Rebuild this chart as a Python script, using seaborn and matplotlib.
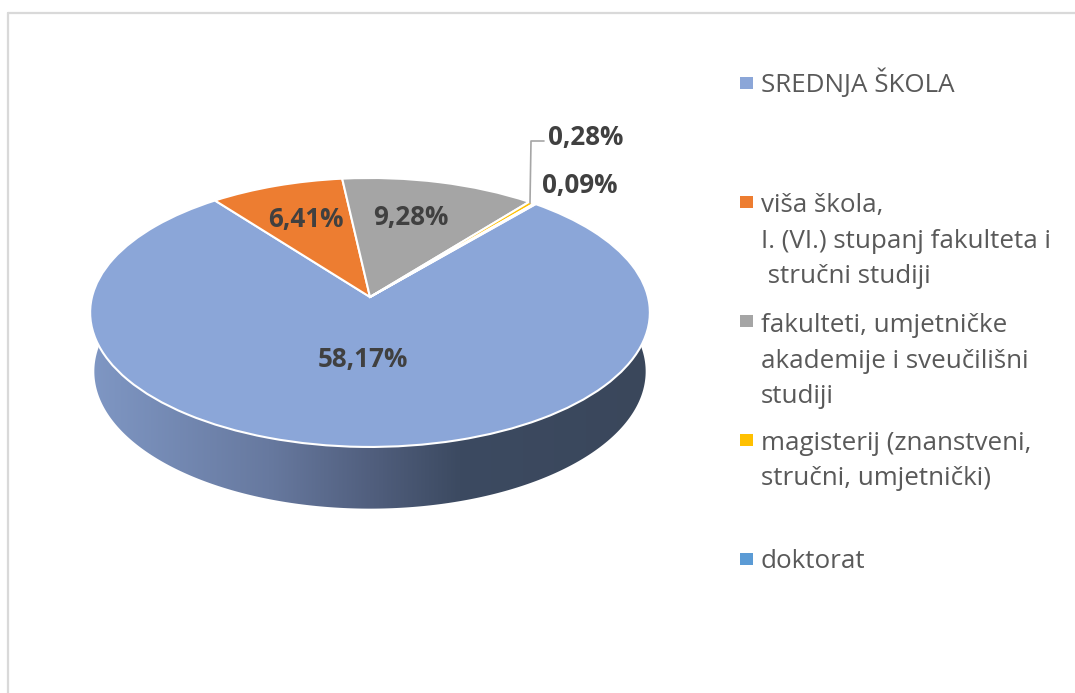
import numpy as np
import pandas as pd
import matplotlib
matplotlib.use('Agg')
import matplotlib.pyplot as plt
import seaborn as sns
from matplotlib.colors import LinearSegmentedColormap
from matplotlib.patches import Polygon
from matplotlib.transforms import Transform

# values as printed on the chart
categories = ['SREDNJA ŠKOLA',
              'viša škola,\nI. (VI.) stupanj fakulteta i\n stručni studiji',
              'fakulteti, umjetničke\nakademije i sveučilišni\nstudiji',
              'magisterij (znanstveni,\nstručni, umjetnički)',
              'doktorat']
percent = [58.17, 6.41, 9.28, 0.28, 0.09]
colors = ['#8ba6d8', '#ed7d31', '#a5a5a5', '#ffc000', '#5b9bd5']

# layout in image pixels
CX, CY = 370, 297
A, B, K = 278, 132.7, 0.115
label_pos = [(363, 360), (306, 220), (411, 218), (586, 138), (580, 186)]
legend_y = [83, 202, 321, 440, 559]
legend_baseline = [92, 283, 403, 485, 568]


class Tilt(Transform):
    # perspective view of the unit circle, gives pixels
    input_dims = 2
    output_dims = 2

    def transform_non_affine(self, values):
        values = np.asarray(values, dtype=float)
        w = 1 + K * values[:, 1]
        return np.column_stack([CX + A * values[:, 0] / w, CY - B * values[:, 1] / w])


sns.set_theme(style='white')
plt.rcParams['font.family'] = ['Open Sans', 'DejaVu Sans']

fig, ax = plt.subplots(figsize=(10.75, 6.93), dpi=100)
ax.set_position([0, 0, 1, 1])

wedges, _ = ax.pie(percent, colors=sns.color_palette(colors), startangle=49.6, counterclock=False,
                   wedgeprops={'edgecolor': 'white', 'linewidth': 1.5, 'zorder': 3})
tilt = Tilt()
for wedge in wedges:
    wedge.set_transform(tilt + ax.transData)

# side of the disc, gradient clipped to the rim shape
t = np.linspace(np.pi - np.arcsin(K), 2 * np.pi + np.arcsin(K), 300)
top = tilt.transform(np.column_stack([np.cos(t), np.sin(t)]))
# lower edge fitted to the reference outline
bottom = np.column_stack([CX + (top[:, 0] - CX) * 0.985, 371 + (top[:, 1] - 312) * 1.02])
rim = Polygon(np.vstack([top, bottom[::-1]]), closed=True, facecolor='none', edgecolor='none',
              transform=ax.transData)
ax.add_patch(rim)
rim_cmap = LinearSegmentedColormap.from_list('rim', [(0.0, '#7f97c4'), (0.32, '#67799f'), (0.5, '#515f7e'),
                                                    (0.66, '#3c4a61'), (1.0, '#3a475b')])
img = ax.imshow(np.linspace(0, 1, 256)[None, :], cmap=rim_cmap, extent=(90, 650, 520, 300), aspect='auto', zorder=1)
img.set_clip_path(rim)

ax.set_xlim(0, 1075)
ax.set_ylim(693, 0)
ax.set_aspect('auto')
ax.set_axis_off()

# outer chart frame
ax.plot([8, 8], [693, 13], color='#d9d9d9', lw=1.6, zorder=2)
ax.plot([8, 1075], [13, 13], color='#d9d9d9', lw=1.6, zorder=2)

# value labels
for val, (lx, ly) in zip(percent, label_pos):
    ax.text(lx, ly, f'{val:.2f}%'.replace('.', ','), ha='center', va='center', fontsize=18.7,
            fontweight='bold', color='#404040', zorder=5)
ax.plot([530, 531, 544], [203, 141, 141], color='#a6a6a6', lw=1.2, zorder=4)

# legend
legend_df = pd.DataFrame({'x': [746.5] * len(categories), 'y': legend_y, 'cat': categories})
sns.scatterplot(data=legend_df, x='x', y='y', hue='cat', palette=colors, marker='s', s=75, linewidth=0,
                legend=False, ax=ax, zorder=5)
for name, ty in zip(categories, legend_baseline):
    ax.text(761, ty, name, ha='left', va='baseline', fontsize=18.7, color='#595959', linespacing=1.54, zorder=5)
ax.set_xlim(0, 1075)
ax.set_ylim(693, 0)
ax.set_axis_off()

fig.savefig('out.png', dpi=100, facecolor='white')
